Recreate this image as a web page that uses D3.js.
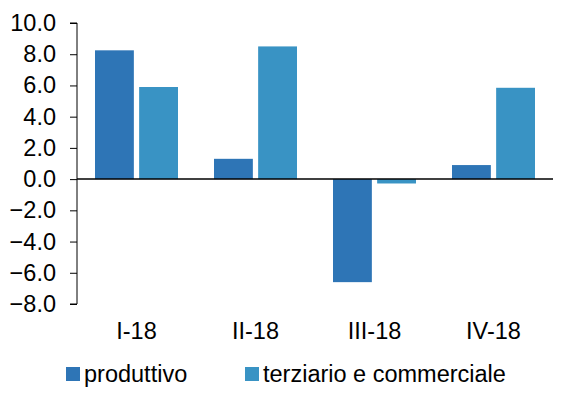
<!DOCTYPE html>
<html>
<head>
<meta charset="utf-8">
<script src="https://cdn.jsdelivr.net/npm/d3@7"></script>
<style>
  body { margin: 0; background: #fff; }
  text { font-family: "Liberation Sans", Arial, sans-serif; fill: #000; }
</style>
</head>
<body>
<div class="container"></div>
<script>
const width = 572;
const height = 395;

const categories = ['I-18', 'II-18', 'III-18', 'IV-18'];
const series = ['produttivo', 'terziario e commerciale'];
const produttivo = [8.25, 1.3, -6.6, 0.9];
const terziario = [5.9, 8.5, -0.28, 5.85];
const yTicks = [10, 8, 6, 4, 2, 0, -2, -4, -6, -8];
const colors = ['#2e75b6', '#3993c4'];

const values = [produttivo, terziario];
const rows = categories.map((c, i) => ({
  cat: c,
  vals: series.map((s, j) => ({ key: s, value: values[j][i] })),
}));

const margin = { left: 77, right: 19, top: 23, bottom: 91 };
const fontSize = '23.5px';

const x0 = d3.scaleBand()
  .domain(categories)
  .range([margin.left, width - margin.right]);

const x1 = d3.scaleBand()
  .domain(series)
  .range([18, 101])
  .paddingInner(0.12);

const y = d3.scaleLinear()
  .domain([-8, 10])
  .range([height - margin.bottom, margin.top]);

const color = d3.scaleOrdinal().domain(series).range(colors);

const svg = d3.select('.container')
  .append('svg')
  .attr('width', width)
  .attr('height', height);

// bars
svg.append('g')
  .selectAll('g')
  .data(rows)
  .enter()
  .append('g')
  .attr('transform', d => `translate(${x0(d.cat)},0)`)
  .selectAll('rect')
  .data(d => d.vals)
  .enter()
  .append('rect')
  .attr('x', d => x1(d.key))
  .attr('width', x1.bandwidth())
  .attr('y', d => y(Math.max(0, d.value)))
  .attr('height', d => Math.abs(y(d.value) - y(0)))
  .attr('fill', d => color(d.key));

// y axis
const yAxis = svg.append('g')
  .attr('transform', `translate(${margin.left},0)`)
  .call(d3.axisLeft(y).tickValues(yTicks).tickSize(7).tickPadding(14)
    .tickFormat(d3.format('.1f')));
yAxis.selectAll('text').style('font-size', fontSize);
yAxis.selectAll('line, path').attr('stroke', '#000');
yAxis.select('.domain').attr('d', `M-7,${y(10)}H0V${y(-8)}H-7`);

// zero line
svg.append('line')
  .attr('x1', margin.left)
  .attr('x2', width - margin.right)
  .attr('y1', y(0))
  .attr('y2', y(0))
  .attr('stroke', '#000')
  .attr('stroke-width', 1.5);

// category labels
svg.append('g')
  .selectAll('text')
  .data(categories)
  .enter()
  .append('text')
  .attr('x', d => x0(d) + x0.bandwidth() / 2)
  .attr('y', 339)
  .attr('text-anchor', 'middle')
  .style('font-size', fontSize)
  .text(d => d);

// legend
const legendX = [66, 245];
const legend = svg.append('g')
  .selectAll('g')
  .data(series)
  .enter()
  .append('g')
  .attr('transform', (d, i) => `translate(${legendX[i]},367)`);

legend.append('rect')
  .attr('width', 14)
  .attr('height', 14)
  .attr('fill', d => color(d));

legend.append('text')
  .attr('x', 18)
  .attr('y', 15)
  .style('font-size', fontSize)
  .text(d => d);
</script>
</body>
</html>
